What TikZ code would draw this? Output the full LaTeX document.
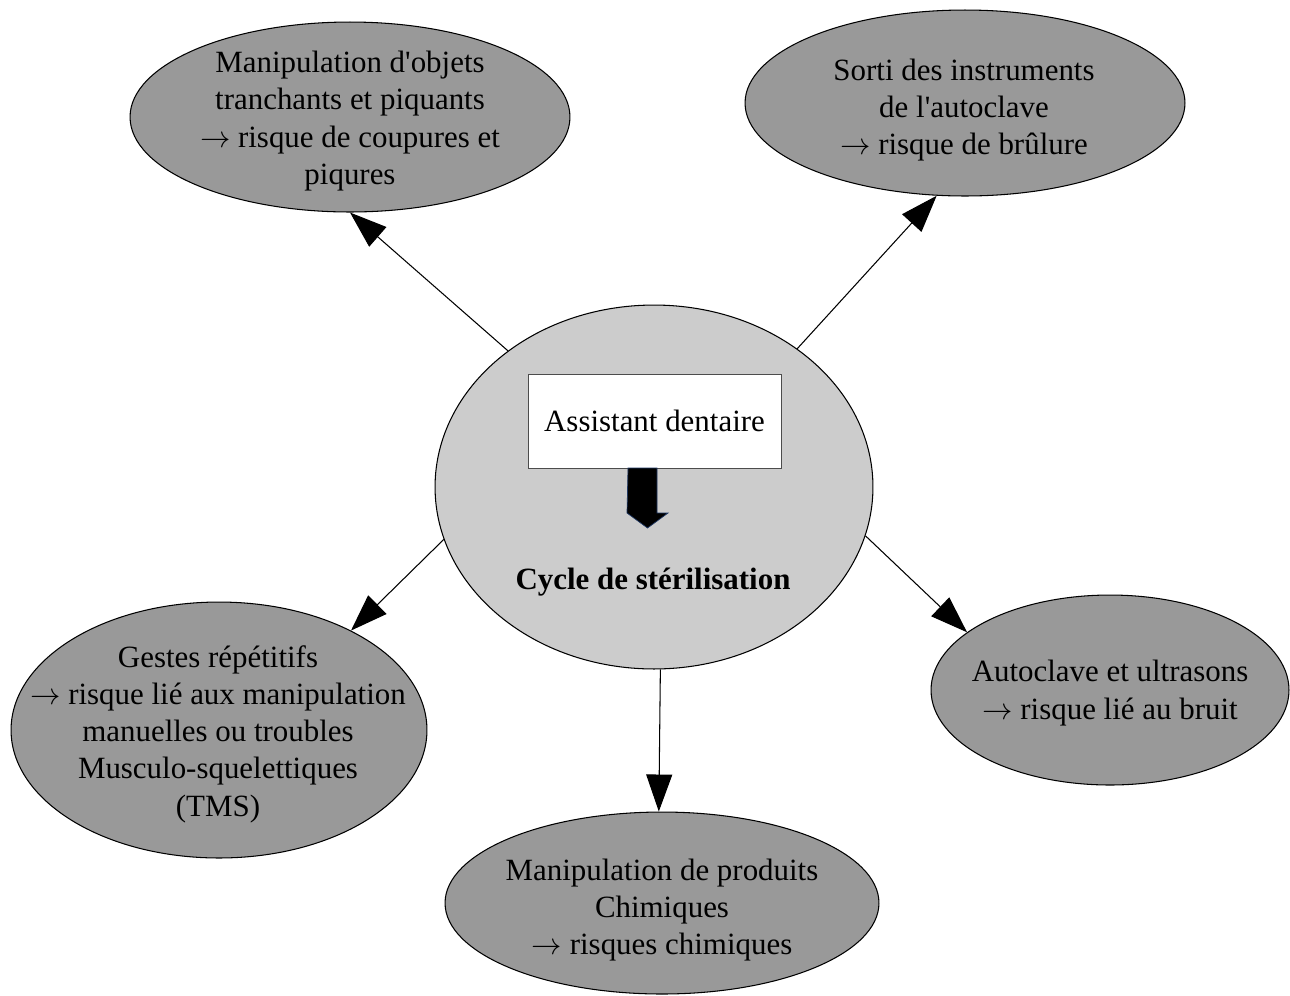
\documentclass[tikz,border=0pt]{standalone}
\usepackage{fontspec}
\setmainfont{Liberation Serif}[Ligatures=TeXOff]
\usetikzlibrary{shapes.geometric,arrows.meta}
\definecolor{riskgray}{RGB}{153,153,153}
\definecolor{hubgray}{RGB}{204,204,204}
\definecolor{navyedge}{RGB}{31,56,100}
\newcommand{\riskarrow}{$\rightarrow$}
\begin{document}
\begin{tikzpicture}[x=0.02cm,y=-0.02cm,
  risk/.style={ellipse,draw=black,line width=0.6pt,fill=riskgray,inner sep=0pt},
  hub/.style={ellipse,draw=black,line width=0.6pt,fill=hubgray,inner sep=0pt},
  txt/.style={align=center,font=\fontsize{17.6}{21.2}\selectfont,inner sep=0pt},
  link/.style={line width=0.6pt,-{Triangle[length=0.74cm,width=0.52cm]}}]
\useasboundingbox (0,0) rectangle (1290,995);

% central ellipse
\node[hub,minimum width=8.76cm,minimum height=7.28cm] (c) at (654,487) {};
\node[draw=black!70,line width=0.5pt,fill=white,minimum width=5.06cm,minimum height=1.88cm,txt] (box) at (654.5,421) {Assistant dentaire};
\fill[black,draw=navyedge,line width=0.4pt] (628,468) -- (657,468) -- (657,513) -- (668,513) -- (647.5,528) -- (627,513) -- cycle;
\node[txt,font=\fontsize{17.6}{21.2}\selectfont\bfseries] (cyc) at (653,582) {Cycle de stérilisation};

% surrounding risk ellipses
\node[risk,minimum width=8.8cm,minimum height=3.8cm] (tl) at (350,117) {};
\node[txt] (tlt) at (350,121) {Manipulation d'objets\\tranchants et piquants\\\riskarrow{} risque de coupures et\\piqures};

\node[risk,minimum width=8.8cm,minimum height=3.72cm] (tr) at (965,103) {};
\node[txt] (trt) at (964,110) {Sorti des instruments\\de l'autoclave\\\riskarrow{} risque de brûlure};

\node[risk,minimum width=8.32cm,minimum height=5.12cm] (bl) at (219,730) {};
\node[txt] (blt) at (218,734) {Gestes répétitifs\\\riskarrow{} risque lié aux manipulation\\manuelles ou troubles\\Musculo-squelettiques\\(TMS)};

\node[risk,minimum width=7.16cm,minimum height=3.8cm] (br) at (1110,690) {};
\node[txt] (brt) at (1110,693) {Autoclave et ultrasons\\\riskarrow{} risque lié au bruit};

\node[risk,minimum width=8.68cm,minimum height=3.64cm] (bm) at (662,903) {};
\node[txt] (bmt) at (662,910) {Manipulation de produits\\Chimiques\\\riskarrow{} risques chimiques};

% connectors
\draw[link] (c.137) -- (tl.270);
\draw[link] (c.44.6) -- (tr.253.7);
\draw[link] (c.194.5) -- (bl.37.9);
\draw[link] (c.347.7) -- (br.158.3);
\draw[link] (c.272.5) -- (bm.92.5);
\end{tikzpicture}
\end{document}
